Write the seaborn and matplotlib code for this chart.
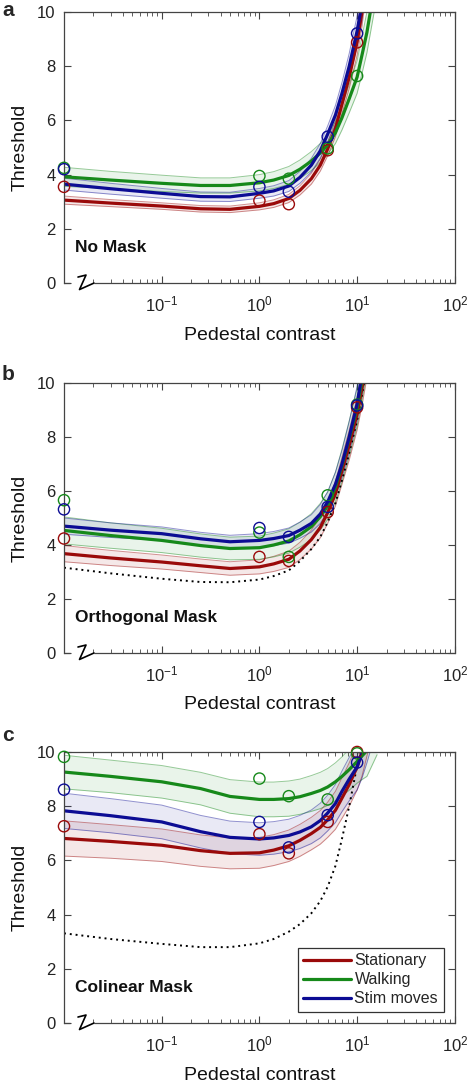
import matplotlib
matplotlib.use("Agg")
import matplotlib.pyplot as plt
from matplotlib.lines import Line2D
from matplotlib.ticker import LogLocator, NullFormatter
import numpy as np
import seaborn as sns

# pedestal contrast where the fitted curves were read (0.01 stands for zero pedestal)
curve_x = [0.01, 0.03, 0.1, 0.25, 0.5, 1, 1.4, 2, 2.6, 3.4, 4.2, 5, 6, 7, 8.3, 10, 11.2, 12.6, 16]
point_x = [0.01, 1, 2, 5, 10]

# a: No Mask
a_red = [3.06, 2.95, 2.84, 2.74, 2.72, 2.83, 2.93, 3.12, 3.42, 3.85, 4.35, 4.95, 5.7, 6.6, 7.6, 8.9, 10.0, 11.5, 14]
a_green = [3.92, 3.8, 3.68, 3.6, 3.6, 3.7, 3.8, 3.97, 4.2, 4.5, 4.8, 5.1, 5.55, 6.1, 6.8, 7.6, 8.4, 9.25, 11.5]
a_blue = [3.65, 3.48, 3.31, 3.19, 3.18, 3.31, 3.4, 3.58, 3.9, 4.35, 4.88, 5.5, 6.2, 7.0, 8.0, 9.3, 10.3, 12, 15]
a_red_ci = [0.15, 0.13, 0.12, 0.12, 0.12, 0.13, 0.14, 0.15, 0.17, 0.2, 0.22, 0.25, 0.3, 0.35, 0.42, 0.5, 0.55, 0.6, 0.7]
a_green_ci = [0.35, 0.32, 0.3, 0.28, 0.28, 0.3, 0.31, 0.33, 0.34, 0.35, 0.35, 0.35, 0.4, 0.45, 0.52, 0.6, 0.68, 0.75, 0.9]
a_blue_ci = [0.22, 0.2, 0.18, 0.17, 0.17, 0.18, 0.19, 0.2, 0.22, 0.25, 0.27, 0.3, 0.35, 0.4, 0.47, 0.55, 0.62, 0.7, 0.8]
a_red_pts = [3.55, 3.04, 2.91, 4.9, 8.88]
a_green_pts = [4.25, 3.95, 3.85, 4.97, 7.64]
a_blue_pts = [4.2, 3.55, 3.37, 5.4, 9.21]

# b: Orthogonal Mask
b_red = [3.68, 3.52, 3.37, 3.23, 3.13, 3.19, 3.3, 3.47, 3.78, 4.2, 4.65, 5.2, 5.9, 6.75, 7.7, 8.86, 9.8, 10.9, 13]
b_green = [4.54, 4.35, 4.17, 3.98, 3.87, 3.9, 4.0, 4.15, 4.38, 4.68, 5.05, 5.45, 6.15, 6.95, 7.95, 9.1, 10.1, 11.2, 13.5]
b_blue = [4.7, 4.55, 4.42, 4.23, 4.12, 4.17, 4.24, 4.35, 4.55, 4.8, 5.15, 5.6, 6.25, 7.0, 8.0, 9.23, 10.3, 11.5, 15]
b_nomask = [3.16, 2.95, 2.75, 2.63, 2.62, 2.72, 2.85, 3.06, 3.4, 3.85, 4.3, 4.85, 5.55, 6.4, 7.4, 8.62, 9.55, 10.6, 13]
b_red_ci = [0.3, 0.28, 0.26, 0.25, 0.25, 0.26, 0.28, 0.3, 0.32, 0.35, 0.38, 0.4, 0.45, 0.5, 0.55, 0.6, 0.65, 0.7, 0.8]
b_green_ci = [0.5, 0.47, 0.45, 0.43, 0.42, 0.43, 0.44, 0.45, 0.46, 0.48, 0.49, 0.5, 0.55, 0.6, 0.65, 0.7, 0.75, 0.8, 0.9]
b_blue_ci = [0.3, 0.27, 0.25, 0.24, 0.24, 0.25, 0.26, 0.28, 0.3, 0.32, 0.35, 0.38, 0.44, 0.5, 0.57, 0.65, 0.72, 0.8, 0.9]
b_red_pts = [4.24, 3.56, 3.41, 5.22, 9.1]
b_green_pts = [5.66, 4.46, 3.56, 5.84, 9.2]
b_blue_pts = [5.32, 4.63, 4.3, 5.41, 9.17]

# c: Colinear Mask
c_red = [6.81, 6.7, 6.56, 6.36, 6.26, 6.28, 6.38, 6.54, 6.74, 6.99, 7.22, 7.5, 7.85, 8.3, 8.8, 9.45, 10.0, 10.8, 12.5]
c_green = [9.26, 9.1, 8.9, 8.65, 8.36, 8.25, 8.25, 8.28, 8.35, 8.47, 8.58, 8.71, 8.9, 9.1, 9.35, 9.65, 9.85, 10.05, 11]
c_blue = [7.83, 7.65, 7.42, 7.06, 6.85, 6.79, 6.83, 6.92, 7.05, 7.24, 7.47, 7.75, 8.1, 8.55, 9.0, 9.45, 9.95, 10.6, 12]
c_nomask = [3.31, 3.1, 2.92, 2.8, 2.8, 2.94, 3.1, 3.37, 3.65, 4.05, 4.5, 5.03, 5.8, 6.8, 8.0, 9.5, 10.6, 12, 15]
c_red_ci = [0.65, 0.62, 0.6, 0.58, 0.57, 0.57, 0.57, 0.58, 0.59, 0.6, 0.62, 0.65, 0.7, 0.75, 0.8, 0.85, 0.9, 0.95, 1.05]
c_green_ci = [0.62, 0.6, 0.6, 0.6, 0.62, 0.64, 0.64, 0.65, 0.65, 0.66, 0.67, 0.68, 0.7, 0.72, 0.76, 0.8, 0.87, 0.95, 1.1]
c_blue_ci = [0.65, 0.63, 0.62, 0.6, 0.6, 0.6, 0.6, 0.6, 0.61, 0.62, 0.64, 0.66, 0.7, 0.75, 0.8, 0.85, 0.92, 1.0, 1.1]
c_red_pts = [7.26, 6.97, 6.26, 7.42, 10.0]
c_green_pts = [9.82, 9.02, 8.37, 8.25, 9.95]
c_blue_pts = [8.61, 7.42, 6.48, 7.67, 9.61]

labels = ["Stationary", "Walking", "Stim moves"]
colors = ["#9a0a0a", "#16891a", "#0c0c94"]
panels = ["a", "b", "c"]
titles = ["No Mask", "Orthogonal Mask", "Colinear Mask"]

sns.set_theme(style="ticks")
plt.rcParams["font.family"] = ["Liberation Sans", "DejaVu Sans"]

fig = plt.figure(figsize=(4.72, 10.82), dpi=100)
# axes boxes in figure fractions (left, bottom, width, height)
boxes = [
    (0.1356, 0.7384, 0.828, 0.2505),
    (0.1356, 0.3965, 0.828, 0.2495),
    (0.1356, 0.0545, 0.828, 0.2505),
]
letter_y = [1 - 16 / 1082, 1 - 380 / 1082, 1 - 741 / 1082]

series = [
    ([a_red, a_green, a_blue], [a_red_ci, a_green_ci, a_blue_ci],
     [a_red_pts, a_green_pts, a_blue_pts], None),
    ([b_red, b_green, b_blue], [b_red_ci, b_green_ci, b_blue_ci],
     [b_red_pts, b_green_pts, b_blue_pts], b_nomask),
    ([c_red, c_green, c_blue], [c_red_ci, c_green_ci, c_blue_ci],
     [c_red_pts, c_green_pts, c_blue_pts], c_nomask),
]

edge = "#444444"
for i, (curves, cis, pts, nomask) in enumerate(series):
    ax = fig.add_axes(boxes[i])
    ax.set_xscale("log")

    # confidence bands
    for y, ci, col in zip(curves, cis, colors):
        y = np.array(y)
        ci = np.array(ci)
        ax.fill_between(curve_x, y - ci, y + ci, color=col, alpha=0.09, lw=0)
        sns.lineplot(x=curve_x, y=y - ci, color=col, lw=0.7, alpha=0.45, ax=ax)
        sns.lineplot(x=curve_x, y=y + ci, color=col, lw=0.7, alpha=0.45, ax=ax)

    if nomask is not None:
        sns.lineplot(x=curve_x, y=nomask, color="black", lw=1.4,
                     linestyle=(0, (1, 2)), ax=ax)

    for y, col in zip(curves, colors):
        sns.lineplot(x=curve_x, y=y, color=col, lw=2.3, ax=ax)

    for p, col in zip(pts, colors):
        sns.scatterplot(x=point_x, y=p, marker="o", s=65, fc="none", ec=col,
                        linewidth=1.0, clip_on=False, zorder=5, ax=ax)

    ax.set_xlim(0.01, 100)
    ax.set_ylim(0, 10)
    ax.set_yticks([0, 2, 4, 6, 8, 10])
    ax.set_xticks([0.1, 1, 10, 100])
    ax.xaxis.set_minor_locator(LogLocator(base=10, subs=np.arange(2, 10), numticks=20))
    ax.xaxis.set_minor_formatter(NullFormatter())
    ax.tick_params(which="both", direction="in", top=True, right=True,
                   colors=edge, labelcolor="#222222", labelsize=12, pad=6)
    ax.tick_params(which="major", length=5, width=0.8)
    ax.tick_params(which="minor", length=3, width=0.6)
    ax.tick_params(axis="x", which="major", pad=8)

    for s in ["top", "right", "left"]:
        ax.spines[s].set_color(edge)
        ax.spines[s].set_linewidth(0.9)
    ax.spines["bottom"].set_visible(False)

    # broken x axis near zero pedestal
    tr = ax.transAxes
    w, h = 391.0, 271.0
    ax.add_line(Line2D([0, 6 / w], [0, 0], transform=tr, color=edge, lw=0.9, clip_on=False))
    ax.add_line(Line2D([14 / w, 22 / w, 15.5 / w, 30 / w], [6 / h, 8 / h, -6.5 / h, 0],
                       transform=tr, color="black", lw=1.2, clip_on=False))
    ax.add_line(Line2D([30 / w, 1], [0, 0], transform=tr, color=edge, lw=0.9, clip_on=False))

    ax.set_xlabel("Pedestal contrast", fontsize=14, color="#111111", labelpad=9)
    ax.set_ylabel("Threshold", fontsize=14, color="#111111", labelpad=6)
    ax.text(0.028, 0.13, titles[i], transform=tr, fontsize=12.5,
            fontweight="bold", va="center", ha="left", color="#111111")
    fig.text(0.004, letter_y[i], panels[i], fontsize=15, fontweight="bold",
             va="baseline", ha="left")

    if i == 2:
        handles = [Line2D([], [], color=c, lw=2.3) for c in colors]
        leg = ax.legend(handles, labels, loc="lower right", fontsize=11.5,
                        handlelength=3.0, handletextpad=0.2, labelspacing=0.25,
                        borderaxespad=0.7, fancybox=False, framealpha=1,
                        borderpad=0.35)
        leg.get_frame().set_edgecolor("#333333")
        leg.get_frame().set_linewidth(0.9)

plt.savefig("out.png", dpi=100)
